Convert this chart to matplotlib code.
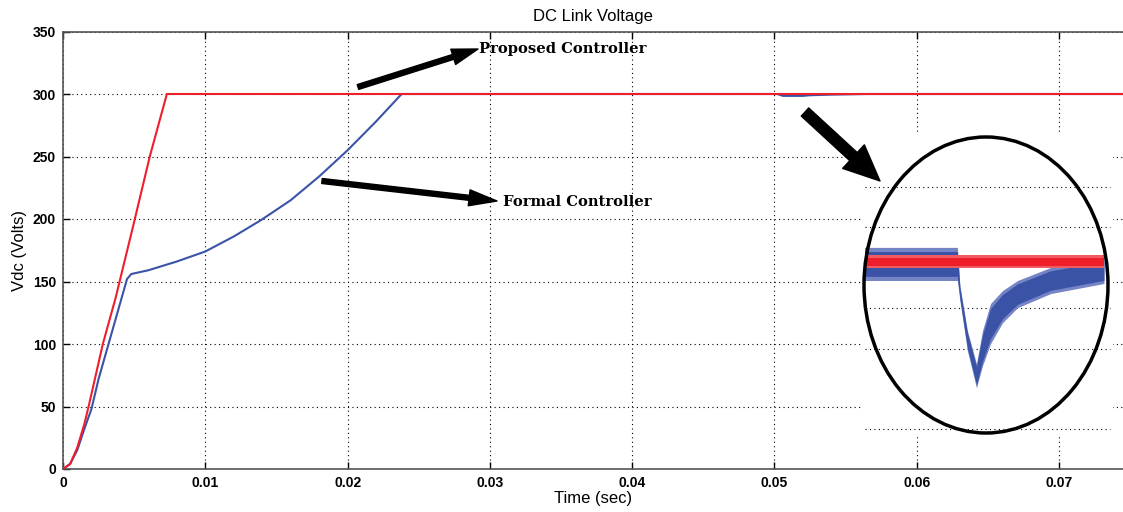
import matplotlib
matplotlib.use("Agg")
import matplotlib.pyplot as plt
import numpy as np
from matplotlib.patches import Ellipse, FancyArrow
from matplotlib.transforms import IdentityTransform

# ---------------- data ----------------
t_proposed = [0, 0.0005, 0.001, 0.0015, 0.0018, 0.0023, 0.0028, 0.0037, 0.0049, 0.0061, 0.0073, 0.0745]
v_proposed = [0, 4, 17, 36, 50, 75, 100, 137, 193, 250, 300, 300]

t_formal = [0, 0.0005, 0.001, 0.0015, 0.002, 0.0025, 0.0032, 0.004, 0.0042, 0.0045, 0.0048,
            0.006, 0.008, 0.01, 0.012, 0.0139, 0.016, 0.018, 0.02, 0.022, 0.0238,
            0.0502, 0.0506, 0.052, 0.0525, 0.054, 0.0565, 0.0745]
v_formal = [0, 4, 15, 32, 48, 72, 100, 132, 140, 152, 156,
            159, 166, 174, 186, 199, 215, 234, 255, 278, 300,
            300, 298.5, 298.5, 299, 299.5, 300, 300]

x_ticks = [0, 0.01, 0.02, 0.03, 0.04, 0.05, 0.06, 0.07]
x_tick_labels = ['0', '0.01', '0.02', '0.03', '0.04', '0.05', '0.06', '0.07']
y_ticks = [0, 50, 100, 150, 200, 250, 300, 350]

# zoomed inset (relative time 0..1, volts)
zt_red = [0.01, 0.964]
zred_hi = [300.14, 300.14]
zred_lo = [299.88, 299.88]
zt_blue = [0.01, 0.38, 0.39, 0.42, 0.456, 0.48, 0.512, 0.56, 0.62, 0.752, 0.964]
zblue_hi = [300.30, 300.30, 299.54, 298.64, 297.98, 298.64, 299.18, 299.44, 299.64, 299.90, 300.08]
zblue_lo = [299.64, 299.64, 299.24, 298.24, 297.50, 297.94, 298.38, 298.80, 299.10, 299.38, 299.58]
zgrid_levels = [301.5, 300.7, 299.1, 298.28, 296.68]

RED = '#ee1f2b'
BLUE = '#3a53a6'

W, H = 1123, 512
fig = plt.figure(figsize=(W / 100, H / 100), dpi=100)

def fx(px):
    return px / W

def fy(py):
    return 1 - py / H

ax = fig.add_axes([fx(63), fy(469), fx(1123) - fx(63), fy(31.5) - fy(469)])
ax.plot(t_formal, v_formal, color=BLUE, lw=1.5, zorder=3)
ax.plot(t_proposed, v_proposed, color=RED, lw=1.5, zorder=4)
ax.set_xlim(0, 0.0745)
ax.set_ylim(0, 350)
ax.set_xticks(x_ticks)
ax.set_xticklabels(x_tick_labels)
ax.set_yticks(y_ticks)
ax.grid(True, color='black', linestyle=(0, (1, 3)), linewidth=0.8)
ax.tick_params(direction='in', length=5, width=1, top=True, right=False, labelsize=10, pad=5)
for lab in ax.get_xticklabels() + ax.get_yticklabels():
    lab.set_fontweight('bold')
    lab.set_family('Liberation Sans')
for s in ['left', 'bottom', 'top']:
    ax.spines[s].set_color('#555555')
    ax.spines[s].set_linewidth(1.2)
ax.spines['right'].set_visible(False)
ax.set_xlabel('Time (sec)', fontsize=12, family='Liberation Sans', labelpad=1)
ax.set_ylabel('Vdc (Volts)', fontsize=12, family='Liberation Sans', labelpad=4)
fig.text(fx(593), fy(16), 'DC Link Voltage', ha='center', va='center', fontsize=12, family='Liberation Sans')

# inset (zoomed view)
iax = fig.add_axes([fx(862), fy(436), fx(1113) - fx(862), fy(135) - fy(436)])
iax.set_facecolor('white')
for s in iax.spines.values():
    s.set_visible(False)
iax.set_xticks([])
iax.set_yticks([])
iax.set_xlim(0, 1)
iax.set_ylim(296.54, 302.54)
for lv in zgrid_levels:
    iax.axhline(lv, xmin=0.01, xmax=0.99, color='black', linestyle=(0, (1, 3)), linewidth=0.8)
b_hi = np.array(zblue_hi)
b_lo = np.array(zblue_lo)
b_mid = (b_hi + b_lo) / 2
b_half = (b_hi - b_lo) / 2
iax.fill_between(zt_blue, b_lo, b_hi, color='#7484c4', lw=0, zorder=3)
iax.fill_between(zt_blue, b_mid - 0.75 * b_half, b_mid + 0.75 * b_half, color=BLUE, lw=0, zorder=3)
r_hi = np.array(zred_hi)
r_lo = np.array(zred_lo)
r_mid = (r_hi + r_lo) / 2
r_half = (r_hi - r_lo) / 2
iax.fill_between(zt_red, r_lo, r_hi, color='#f25a62', lw=0, zorder=4)
iax.fill_between(zt_red, r_mid - 0.6 * r_half, r_mid + 0.6 * r_half, color=RED, lw=0, zorder=4)

ell = Ellipse((986, H - 285), 244, 296, transform=IdentityTransform(),
              fill=False, edgecolor='black', linewidth=2.5, zorder=10)
fig.add_artist(ell)

# arrows (figure pixel coordinates)
def arrow(x0, y0, x1, y1, width, hw, hl):
    dx, dy = x1 - x0, -(y1 - y0)
    a = FancyArrow(x0, H - y0, dx, dy, width=width, head_width=hw, head_length=hl,
                   length_includes_head=True, transform=IdentityTransform(),
                   color='black', zorder=11, joinstyle='round', capstyle='round')
    fig.add_artist(a)

arrow(358, 87, 478, 49, 5, 16, 26)
arrow(322, 181, 497, 201, 5, 16, 28)
arrow(805, 112, 880, 181, 11, 32, 36)

fig.text(fx(479), fy(49), 'Proposed Controller', ha='left', va='center', fontsize=10.6,
         family='DejaVu Serif', fontweight='bold')
fig.text(fx(503), fy(202), 'Formal Controller', ha='left', va='center', fontsize=10.6,
         family='DejaVu Serif', fontweight='bold')

fig.savefig('out.png', dpi=100)
